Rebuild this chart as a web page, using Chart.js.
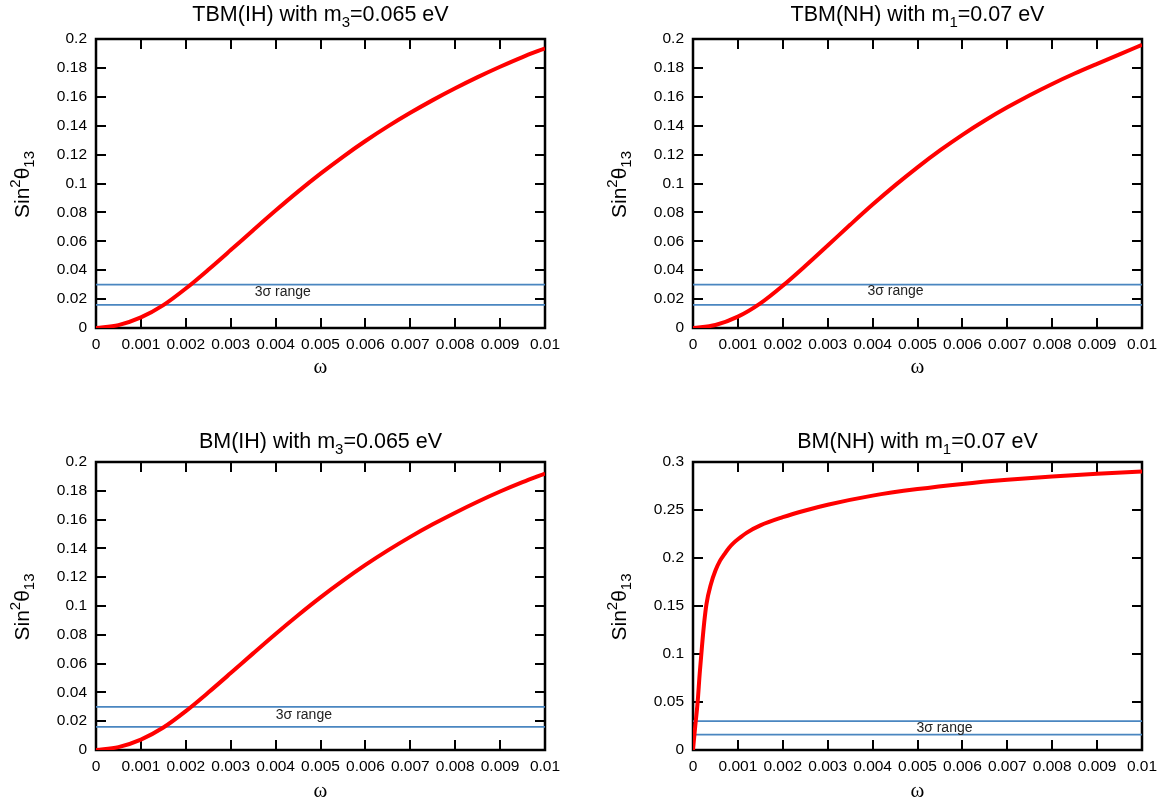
<!DOCTYPE html>
<html>
<head>
<meta charset="utf-8">
<script src="https://cdn.jsdelivr.net/npm/chart.js@4/dist/chart.umd.min.js"></script>
<style>
  html, body { margin: 0; padding: 0; background: #fff; overflow: hidden; }
  #page { position: relative; width: 1169px; height: 803px; }
  .panel { position: absolute; }
</style>
</head>
<body>
<div id="page"></div>
<script>
// omega axis ticks and the two y tick sets
const xTicks = [0, 0.001, 0.002, 0.003, 0.004, 0.005, 0.006, 0.007, 0.008, 0.009, 0.01]
const yTicksLow = [0, 0.02, 0.04, 0.06, 0.08, 0.1, 0.12, 0.14, 0.16, 0.18, 0.2]
const yTicksHigh = [0, 0.05, 0.1, 0.15, 0.2, 0.25, 0.3]

// 3 sigma band for sin^2(theta13)
const sigmaLow = 0.016
const sigmaHigh = 0.030

// omega grid for the TBM / BM(IH) curves
const omegaGrid = [0, 0.0005, 0.001, 0.0015, 0.002, 0.0025, 0.003, 0.0035, 0.004, 0.0045, 0.005,
  0.0055, 0.006, 0.0065, 0.007, 0.0075, 0.008, 0.0085, 0.009, 0.0095, 0.01]
const tbmIH = [0, 0.002, 0.0073, 0.0158, 0.0273, 0.0403, 0.0539, 0.0677, 0.0813, 0.0944, 0.1068,
  0.1185, 0.1294, 0.1395, 0.1489, 0.1577, 0.1659, 0.1736, 0.1808, 0.1875, 0.1935]
const tbmNH = [0, 0.0021, 0.0079, 0.0171, 0.0293, 0.0429, 0.0571, 0.0714, 0.0854, 0.0987, 0.1112,
  0.1229, 0.1337, 0.1436, 0.1527, 0.1611, 0.1689, 0.1761, 0.1828, 0.1893, 0.196]
const bmIH = [0, 0.002, 0.0072, 0.0156, 0.027, 0.0399, 0.0534, 0.0671, 0.0806, 0.0936, 0.106,
  0.1176, 0.1285, 0.1386, 0.148, 0.1567, 0.1648, 0.1724, 0.1795, 0.186, 0.192]

// BM(NH) rises steeply near zero, so it gets a denser grid there
const omegaBMNH = [0, 0.00005, 0.0001, 0.00015, 0.0002, 0.00025, 0.0003, 0.0004, 0.0005, 0.0006,
  0.0007, 0.0008, 0.0009, 0.001, 0.0012, 0.0015, 0.002, 0.0025, 0.003, 0.004, 0.005, 0.006, 0.007,
  0.008, 0.009, 0.01]
const bmNH = [0, 0.025, 0.048, 0.08, 0.108, 0.133, 0.152, 0.173, 0.187, 0.197,
  0.204, 0.2105, 0.2155, 0.2195, 0.2265, 0.234, 0.2425, 0.2495, 0.2555, 0.265, 0.2718, 0.2772, 0.2815,
  0.285, 0.2878, 0.29]

const FONT = "'Liberation Sans', Arial, Helvetica, sans-serif"
Chart.defaults.font.family = FONT
Chart.defaults.color = '#000'

const panels = [
  { box: [96, 39, 545, 328], title: ['TBM(IH) with m', '3', '=0.065 eV'], xs: omegaGrid, ys: tbmIH,
    yTicks: yTicksLow, yMax: 0.2, note: [0.00416, 0.0245], titleGap: 18, omegaGap: 45 },
  { box: [693, 39, 1142, 328], title: ['TBM(NH) with m', '1', '=0.07 eV'], xs: omegaGrid, ys: tbmNH,
    yTicks: yTicksLow, yMax: 0.2, note: [0.00451, 0.0255], titleGap: 18, omegaGap: 45 },
  { box: [96, 462, 545, 750], title: ['BM(IH) with m', '3', '=0.065 eV'], xs: omegaGrid, ys: bmIH,
    yTicks: yTicksLow, yMax: 0.2, note: [0.00463, 0.024], titleGap: 14, omegaGap: 47 },
  { box: [693, 462, 1142, 750], title: ['BM(NH) with m', '1', '=0.07 eV'], xs: omegaBMNH, ys: bmNH,
    yTicks: yTicksHigh, yMax: 0.3, note: [0.0056, 0.0232], titleGap: 14, omegaGap: 47 }
]

const LEFT = 96, TOP = 39, CW = 584, CH = 380, XAXIS_H = 30

function fmt(v) {
  return String(Number(v.toFixed(4)))
}

// draw a run of text pieces with their own size and baseline shift
function richText(ctx, parts, x, y) {
  let total = 0
  for (let p of parts) {
    ctx.font = p.size + 'px ' + FONT
    p.w = ctx.measureText(p.t).width
    total += p.w
  }
  let cx = x - total / 2
  for (let p of parts) {
    ctx.font = p.size + 'px ' + FONT
    ctx.fillText(p.t, cx, y + (p.dy || 0))
    cx += p.w
  }
}

const framePlugin = {
  id: 'frame',
  beforeDatasetsDraw(chart) {
    let ctx = chart.ctx
    let a = chart.chartArea
    let xs = chart.scales.x, ys = chart.scales.y
    ctx.save()
    ctx.strokeStyle = '#000'
    ctx.lineWidth = 2
    ctx.beginPath()
    for (let v of xs.ticks) {
      let px = Math.round(xs.getPixelForValue(v.value))
      ctx.moveTo(px, a.bottom); ctx.lineTo(px, a.bottom - 10)
      ctx.moveTo(px, a.top); ctx.lineTo(px, a.top + 10)
    }
    for (let v of ys.ticks) {
      let py = Math.round(ys.getPixelForValue(v.value))
      ctx.moveTo(a.left, py); ctx.lineTo(a.left + 10, py)
      ctx.moveTo(a.right, py); ctx.lineTo(a.right - 10, py)
    }
    ctx.stroke()
    ctx.lineWidth = 2.5
    ctx.strokeRect(a.left, a.top, a.right - a.left, a.bottom - a.top)
    ctx.restore()
  },
  afterDraw(chart) {
    let p = chart.options.plugins.frame
    let ctx = chart.ctx
    let a = chart.chartArea
    let midX = (a.left + a.right) / 2
    let midY = (a.top + a.bottom) / 2
    ctx.save()
    ctx.fillStyle = '#000'
    ctx.textBaseline = 'alphabetic'
    // title
    richText(ctx, [
      { t: p.title[0], size: 21.5 },
      { t: p.title[1], size: 15, dy: 6 },
      { t: p.title[2], size: 21.5 }
    ], midX, a.top - p.titleGap)
    // x axis label
    ctx.font = '21px "Liberation Serif", "Times New Roman", serif'
    ctx.textAlign = 'center'
    ctx.fillText('ω', midX, a.bottom + p.omegaGap)
    ctx.textAlign = 'left'
    // y axis label, rotated
    ctx.save()
    ctx.translate(a.left - 67, midY + 1)
    ctx.rotate(-Math.PI / 2)
    richText(ctx, [
      { t: 'Sin', size: 21 },
      { t: '2', size: 15, dy: -9 },
      { t: 'θ', size: 21 },
      { t: '13', size: 15, dy: 5 }
    ], 0, 0)
    ctx.restore()
    // band note
    ctx.font = '14px ' + FONT
    ctx.fillStyle = '#222'
    ctx.textAlign = 'center'
    ctx.textBaseline = 'middle'
    ctx.fillText('3σ range', chart.scales.x.getPixelForValue(p.note[0]), chart.scales.y.getPixelForValue(p.note[1]))
    ctx.restore()
  }
}

function makePanel(cfg) {
  let [l, t, r, b] = cfg.box
  let div = document.createElement('div')
  div.className = 'panel'
  div.style.left = (l - LEFT) + 'px'
  div.style.top = (t - TOP) + 'px'
  let canvas = document.createElement('canvas')
  canvas.width = CW
  canvas.height = CH
  div.appendChild(canvas)
  document.getElementById('page').appendChild(div)

  let curve = cfg.xs.map((x, i) => ({ x: x, y: cfg.ys[i] }))
  let band = v => [{ x: 0, y: v }, { x: 0.01, y: v }]

  new Chart(canvas.getContext('2d'), {
    type: 'line',
    data: {
      datasets: [
        { data: curve, borderColor: '#ff0000', borderWidth: 4, pointRadius: 0, cubicInterpolationMode: 'monotone' },
        { data: band(sigmaHigh), borderColor: '#4a86c0', borderWidth: 1.8, pointRadius: 0 },
        { data: band(sigmaLow), borderColor: '#4a86c0', borderWidth: 1.8, pointRadius: 0 }
      ]
    },
    options: {
      responsive: false,
      animation: false,
      layout: {
        padding: { left: 0, top: TOP, right: CW - LEFT - (r - l), bottom: CH - TOP - (b - t) - XAXIS_H }
      },
      plugins: {
        legend: { display: false },
        tooltip: { enabled: false },
        frame: { title: cfg.title, note: cfg.note, titleGap: cfg.titleGap, omegaGap: cfg.omegaGap }
      },
      scales: {
        x: {
          type: 'linear', min: 0, max: 0.01,
          grid: { display: false, drawTicks: false },
          border: { display: false },
          afterBuildTicks: s => { s.ticks = xTicks.map(v => ({ value: v })) },
          afterFit: s => { s.height = XAXIS_H },
          ticks: { font: { size: 15.5 }, padding: 7, maxRotation: 0, autoSkip: false, callback: v => fmt(v) }
        },
        y: {
          type: 'linear', min: 0, max: cfg.yMax,
          grid: { display: false, drawTicks: false },
          border: { display: false },
          afterBuildTicks: s => { s.ticks = cfg.yTicks.map(v => ({ value: v })) },
          afterFit: s => { s.width = LEFT },
          ticks: { font: { size: 15.5 }, padding: 9, autoSkip: false, callback: v => fmt(v) }
        }
      }
    },
    plugins: [framePlugin]
  })
}

for (let p of panels) makePanel(p)
</script>
</body>
</html>
